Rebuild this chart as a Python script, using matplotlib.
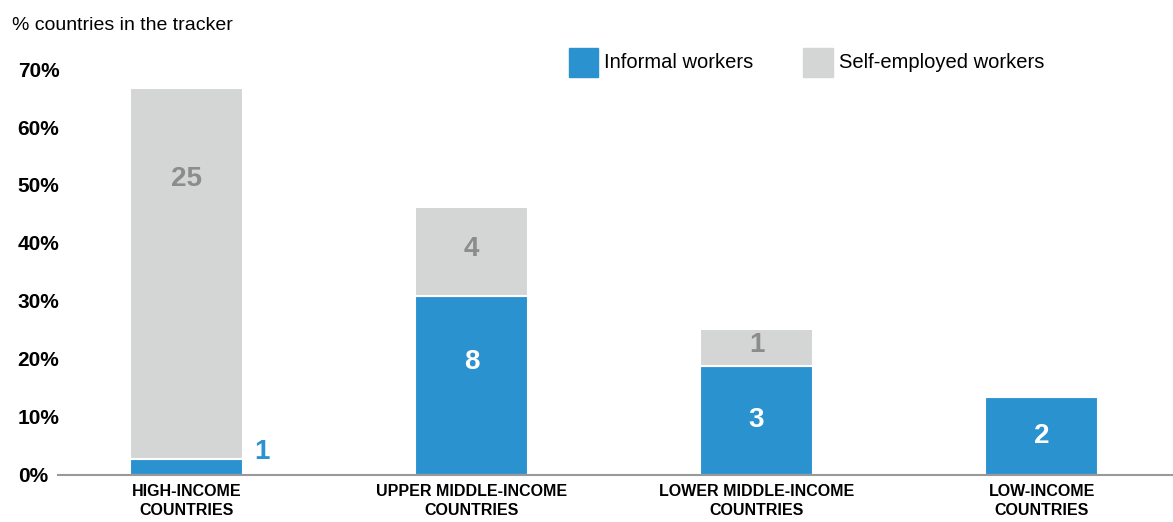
import matplotlib.pyplot as plt

categories = ["HIGH-INCOME\nCOUNTRIES", "UPPER MIDDLE-INCOME\nCOUNTRIES",
              "LOWER MIDDLE-INCOME\nCOUNTRIES", "LOW-INCOME\nCOUNTRIES"]
informal_pct = [2.6, 30.8, 18.8, 13.4]
selfemp_pct = [64.1, 15.4, 6.4, 0.0]
informal_n = [1, 8, 3, 2]
selfemp_n = [25, 4, 1, 0]
yticks = [0, 10, 20, 30, 40, 50, 60, 70]

BLUE = "#2b92d0"
GREY = "#d4d5d5"
LABEL_GREY = "#8c8c8c"
plt.rcParams["font.family"] = ["Liberation Sans", "DejaVu Sans"]

W, H = 1173, 522
fig = plt.figure(figsize=(W / 100, H / 100), dpi=100)
ax = fig.add_axes([58 / W, (H - 474.5) / H, (W - 58) / W, (474.5 - 50) / H])

x = list(range(len(categories)))
ax.bar(x, informal_pct, width=0.396, color=BLUE, edgecolor="white", linewidth=1.5)
ax.bar(x, selfemp_pct, width=0.396, bottom=informal_pct, color=GREY,
       edgecolor="white", linewidth=1.5)

ax.set_xlim(-0.451, 3.461)
ax.set_ylim(0, (474.5 - 50) / 5.79)

# count labels
for i in x:
    inf, se = informal_pct[i], selfemp_pct[i]
    if inf < 5:
        ax.text(i + 0.265, 3.9, str(informal_n[i]), color=BLUE, fontsize=20,
                fontweight="bold", ha="center", va="center")
    else:
        ypos = inf * 0.63 if inf > 25 else inf / 2
        ax.text(i, ypos, str(informal_n[i]), color="white", fontsize=20,
                fontweight="bold", ha="center", va="center")
    if selfemp_n[i] > 0:
        ypos = inf + se * 0.755 if se > 40 else inf + se / 2 + 0.4
        ax.text(i, ypos, str(selfemp_n[i]), color=LABEL_GREY, fontsize=20,
                fontweight="bold", ha="center", va="center")

ax.set_yticks(yticks)
ax.set_yticklabels([f"{t}%" for t in yticks], fontsize=15, fontweight="bold")
for lab in ax.get_yticklabels():
    lab.set_ha("left")
ax.tick_params(axis="y", length=0, pad=29)
ax.set_xticks(x)
ax.set_xticklabels(categories, fontsize=11.5, fontweight="bold", linespacing=1.35)
ax.tick_params(axis="x", length=0, pad=7)

for s in ["top", "right", "left"]:
    ax.spines[s].set_visible(False)
ax.spines["bottom"].set_color("#999999")
ax.spines["bottom"].set_linewidth(1.5)

fig.text(12 / W, 1 - 25 / H, "% countries in the tracker", fontsize=14,
         ha="left", va="center")

# legend
fig.patches.append(plt.Rectangle((569 / W, 1 - 77 / H), 29 / W, 29 / H,
                                 color=BLUE, transform=fig.transFigure))
fig.text(604 / W, 1 - 62 / H, "Informal workers", fontsize=14.5, ha="left", va="center")
fig.patches.append(plt.Rectangle((803 / W, 1 - 77 / H), 30 / W, 29 / H,
                                 color=GREY, transform=fig.transFigure))
fig.text(839 / W, 1 - 62 / H, "Self-employed workers", fontsize=14.5, ha="left", va="center")

fig.savefig("out.png", dpi=100)
